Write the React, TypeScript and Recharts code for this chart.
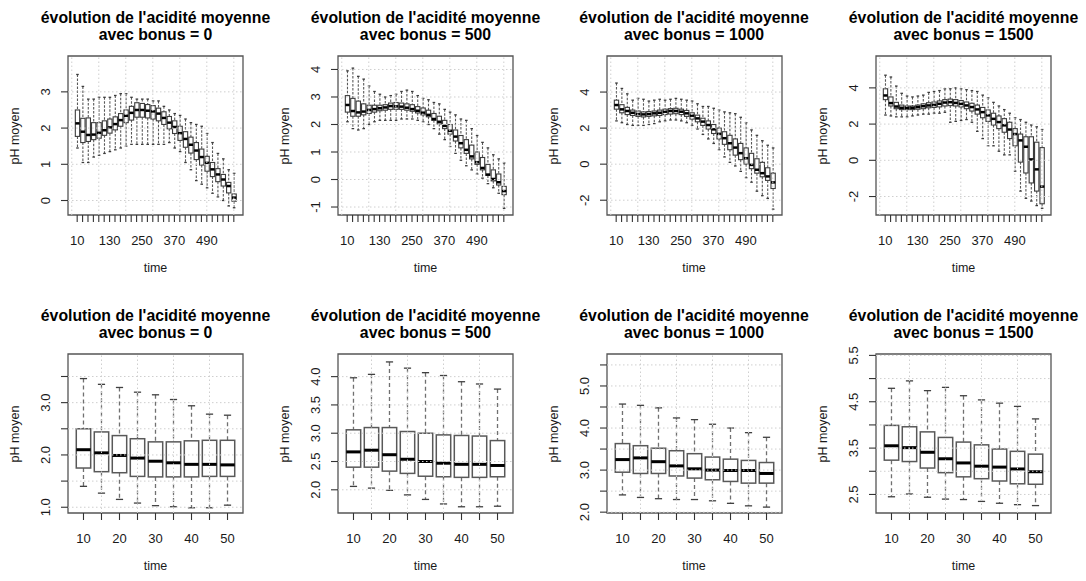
import React from "react";
import { ComposedChart, Bar, XAxis, YAxis, ReferenceLine, ReferenceArea } from "recharts";

// ---------- data ----------
const TIMES_LONG = [10, 30, 50, 70, 90, 110, 130, 150, 170, 190, 210, 230, 250, 270, 290, 310, 330, 350, 370, 390, 410, 430, 450, 470, 490, 510, 530, 550, 570, 590];
const TIMES_SHORT = [10, 15, 20, 25, 30, 35, 40, 45, 50];
const LONG_TICK_LABELS = [10, 130, 250, 370, 490];
const SHORT_TICK_LABELS = [10, 20, 30, 40, 50];
const BONUS = [0, 500, 1000, 1500];

// bonus 0, long run
const b0L_high = [3.48, 3.15, 2.8, 2.8, 2.85, 2.85, 2.85, 2.9, 2.95, 2.95, 2.85, 2.8, 2.8, 2.8, 2.75, 2.75, 2.6, 2.5, 2.4, 2.35, 2.25, 2.15, 2.1, 2.05, 1.85, 1.6, 1.3, 1.15, 0.85, 0.75];
const b0L_q3 = [2.5, 2.27, 2.28, 2.15, 2.15, 2.2, 2.25, 2.31, 2.4, 2.5, 2.6, 2.7, 2.68, 2.65, 2.62, 2.55, 2.45, 2.32, 2.2, 2.05, 1.9, 1.75, 1.6, 1.42, 1.22, 1.05, 0.88, 0.72, 0.5, 0.18];
const b0L_med = [2.13, 1.9, 1.81, 1.82, 1.87, 1.94, 2.02, 2.11, 2.22, 2.34, 2.42, 2.5, 2.5, 2.48, 2.46, 2.4, 2.28, 2.15, 2.03, 1.86, 1.7, 1.54, 1.38, 1.2, 1.04, 0.86, 0.72, 0.58, 0.4, 0.08];
const b0L_q1 = [1.77, 1.6, 1.63, 1.68, 1.72, 1.8, 1.86, 1.95, 2.05, 2.15, 2.22, 2.3, 2.3, 2.28, 2.25, 2.2, 2.1, 1.98, 1.85, 1.66, 1.47, 1.31, 1.13, 0.98, 0.81, 0.66, 0.52, 0.4, 0.21, -0.02];
const b0L_low = [1.45, 1.05, 1.05, 1.2, 1.25, 1.3, 1.35, 1.4, 1.45, 1.5, 1.55, 1.55, 1.55, 1.55, 1.55, 1.55, 1.55, 1.6, 1.45, 1.35, 1.05, 0.85, 0.55, 0.45, 0.35, 0.2, 0.1, 0.0, -0.15, -0.2];

// bonus 500, long run
const b500L_high = [3.95, 4.05, 3.75, 3.65, 3.4, 3.2, 3.1, 3.0, 3.05, 3.1, 3.2, 3.25, 3.2, 3.05, 2.95, 2.9, 2.8, 2.75, 2.55, 2.45, 2.35, 2.2, 2.15, 1.85, 1.6, 1.35, 1.15, 0.9, 0.75, 0.6];
const b500L_q3 = [3.05, 2.95, 2.85, 2.75, 2.7, 2.7, 2.7, 2.72, 2.78, 2.8, 2.78, 2.75, 2.72, 2.65, 2.6, 2.52, 2.4, 2.3, 2.15, 2.0, 1.8, 1.6, 1.45, 1.25, 1.0, 0.8, 0.55, 0.35, 0.2, -0.25];
const b500L_med = [2.71, 2.49, 2.44, 2.47, 2.53, 2.56, 2.59, 2.62, 2.67, 2.66, 2.65, 2.61, 2.56, 2.5, 2.43, 2.35, 2.2, 2.1, 1.95, 1.77, 1.56, 1.32, 1.08, 0.84, 0.63, 0.42, 0.18, 0.02, -0.1, -0.42];
const b500L_q1 = [2.45, 2.3, 2.3, 2.35, 2.4, 2.45, 2.5, 2.52, 2.55, 2.55, 2.55, 2.52, 2.48, 2.42, 2.35, 2.28, 2.15, 2.02, 1.85, 1.65, 1.4, 1.15, 0.95, 0.75, 0.55, 0.35, 0.15, -0.05, -0.2, -0.55];
const b500L_low = [2.1, 1.85, 1.8, 1.85, 2.0, 2.1, 2.15, 2.15, 2.15, 2.15, 2.2, 2.2, 2.2, 2.15, 2.1, 2.0, 1.85, 1.65, 1.45, 1.2, 0.95, 0.7, 0.5, 0.35, 0.2, 0.05, -0.15, -0.3, -0.5, -1.05];

// bonus 1000, long run
const b1000L_high = [4.5, 4.2, 3.9, 3.55, 3.65, 3.6, 3.5, 3.55, 3.6, 3.55, 3.6, 3.65, 3.6, 3.55, 3.5, 3.35, 3.2, 3.2, 3.1, 3.0, 2.9, 2.85, 2.8, 2.6, 2.3, 1.9, 1.6, 1.3, 1.05, 0.9];
const b1000L_q3 = [3.55, 3.3, 3.15, 3.0, 2.95, 2.9, 2.92, 2.95, 3.0, 3.05, 3.08, 3.1, 3.05, 2.98, 2.85, 2.72, 2.55, 2.4, 2.2, 2.0, 1.8, 1.6, 1.4, 1.15, 0.9, 0.6, 0.3, 0.1, -0.2, -0.5];
const b1000L_med = [3.28, 3.04, 2.95, 2.85, 2.78, 2.76, 2.78, 2.82, 2.85, 2.91, 2.95, 2.95, 2.91, 2.82, 2.69, 2.54, 2.36, 2.17, 1.93, 1.68, 1.44, 1.16, 0.92, 0.61, 0.33, -0.04, -0.31, -0.5, -0.68, -1.01];
const b1000L_q1 = [3.05, 2.85, 2.75, 2.7, 2.65, 2.62, 2.65, 2.68, 2.7, 2.75, 2.78, 2.8, 2.75, 2.65, 2.5, 2.35, 2.15, 1.95, 1.7, 1.4, 1.1, 0.8, 0.5, 0.25, 0.0, -0.25, -0.5, -0.7, -0.9, -1.35];
const b1000L_low = [2.4, 2.3, 2.2, 2.15, 2.15, 2.15, 2.2, 2.25, 2.35, 2.4, 2.45, 2.45, 2.4, 2.3, 2.15, 1.95, 1.65, 1.4, 1.15, 0.8, 0.4, 0.1, -0.1, -0.4, -0.75, -1.0, -1.5, -1.75, -1.9, -2.5];

// bonus 1500, long run
const b1500L_high = [4.7, 4.6, 4.1, 3.7, 3.55, 3.5, 3.55, 3.6, 3.75, 3.8, 3.85, 3.95, 3.95, 4.0, 3.95, 3.9, 3.85, 3.8, 3.6, 3.45, 3.2, 3.0, 2.8, 2.6, 2.35, 2.25, 2.1, 1.95, 1.85, 1.7];
const b1500L_q3 = [3.95, 3.5, 3.2, 3.05, 3.0, 3.0, 3.05, 3.12, 3.18, 3.22, 3.28, 3.35, 3.38, 3.35, 3.3, 3.22, 3.15, 3.05, 2.92, 2.78, 2.6, 2.45, 2.3, 2.1, 1.75, 1.45, 1.3, 1.3, 1.0, 0.7];
const b1500L_med = [3.58, 3.16, 2.97, 2.9, 2.9, 2.9, 2.94, 2.99, 3.03, 3.06, 3.12, 3.19, 3.21, 3.17, 3.12, 3.03, 2.94, 2.81, 2.66, 2.48, 2.29, 2.11, 1.93, 1.7, 1.45, 1.1, 0.75, 0.05, -0.5, -1.45];
const b1500L_q1 = [3.35, 3.0, 2.85, 2.8, 2.8, 2.8, 2.82, 2.85, 2.9, 2.92, 2.95, 3.0, 3.02, 3.0, 2.95, 2.85, 2.72, 2.55, 2.35, 2.15, 1.95, 1.75, 1.55, 1.2, 0.8, -0.1, -0.7, -1.25, -1.7, -2.4];
const b1500L_low = [2.5, 2.45, 2.4, 2.4, 2.4, 2.45, 2.5, 2.55, 2.55, 2.6, 2.6, 2.65, 2.1, 2.15, 2.2, 2.25, 2.1, 1.6, 1.2, 0.8, 0.8, 0.5, 0.3, 0.3, -0.6, -1.7, -2.1, -2.25, -2.5, -2.65];

// bonus 0, short run
const b0S_high = [3.46, 3.35, 3.29, 3.2, 3.15, 3.06, 2.94, 2.78, 2.76];
const b0S_q3 = [2.5, 2.44, 2.37, 2.31, 2.25, 2.25, 2.27, 2.28, 2.28];
const b0S_med = [2.1, 2.04, 1.99, 1.94, 1.88, 1.85, 1.82, 1.82, 1.81];
const b0S_q1 = [1.75, 1.68, 1.66, 1.59, 1.58, 1.58, 1.58, 1.59, 1.59];
const b0S_low = [1.4, 1.27, 1.15, 1.08, 1.03, 1.01, 0.99, 0.99, 1.04];

// bonus 500, short run
const b500S_high = [3.98, 4.04, 4.26, 4.15, 4.07, 4.02, 3.91, 3.87, 3.78];
const b500S_q3 = [3.06, 3.1, 3.1, 3.03, 3.0, 2.97, 2.96, 2.95, 2.87];
const b500S_med = [2.67, 2.7, 2.62, 2.54, 2.5, 2.47, 2.45, 2.45, 2.43];
const b500S_q1 = [2.4, 2.4, 2.33, 2.29, 2.24, 2.23, 2.22, 2.22, 2.23];
const b500S_low = [2.06, 2.03, 1.99, 1.91, 1.83, 1.75, 1.7, 1.7, 1.71];

// bonus 1000, short run
const b1000S_high = [4.57, 4.54, 4.48, 4.24, 4.2, 4.09, 4.0, 3.89, 3.78];
const b1000S_q3 = [3.63, 3.58, 3.52, 3.46, 3.39, 3.31, 3.26, 3.23, 3.18];
const b1000S_med = [3.25, 3.29, 3.2, 3.1, 3.03, 3.0, 2.99, 2.99, 2.92];
const b1000S_q1 = [2.95, 2.92, 2.92, 2.86, 2.81, 2.77, 2.73, 2.69, 2.69];
const b1000S_low = [2.41, 2.35, 2.32, 2.3, 2.3, 2.27, 2.21, 2.15, 2.12];

// bonus 1500, short run
const b1500S_high = [4.79, 4.95, 4.74, 4.81, 4.63, 4.54, 4.47, 4.4, 4.13];
const b1500S_q3 = [3.99, 3.96, 3.85, 3.73, 3.63, 3.57, 3.48, 3.43, 3.37];
const b1500S_med = [3.55, 3.51, 3.41, 3.27, 3.18, 3.11, 3.09, 3.05, 2.99];
const b1500S_q1 = [3.24, 3.21, 3.07, 2.97, 2.88, 2.84, 2.79, 2.73, 2.72];
const b1500S_low = [2.45, 2.51, 2.44, 2.4, 2.39, 2.35, 2.31, 2.28, 2.26];

// axis ticks
const Y_TICKS = [
  [0, 1, 2, 3],
  [-1, 0, 1, 2, 3, 4],
  [-2, 0, 2, 4],
  [-2, 0, 2, 4],
  [1.0, 1.5, 2.0, 2.5, 3.0, 3.5],
  [2.0, 2.5, 3.0, 3.5, 4.0],
  [2.0, 2.5, 3.0, 3.5, 4.0, 4.5, 5.0, 5.5],
  [2.5, 3.0, 3.5, 4.0, 4.5, 5.0, 5.5],
];
const Y_LABELS = [
  [0, 1, 2, 3],
  [-1, 0, 1, 2, 3, 4],
  [-2, 0, 2, 4],
  [-2, 0, 2, 4],
  [1.0, 2.0, 3.0],
  [2.0, 2.5, 3.0, 3.5, 4.0],
  [2.0, 3.0, 4.0, 5.0],
  [2.5, 3.5, 4.5, 5.5],
];
const Y_DOMAINS = [
  [-0.4, 3.99],
  [-1.29, 4.49],
  [-2.82, 6.0],
  [-3.02, 5.76],
  [0.89, 3.93],
  [1.59, 4.4],
  [1.98, 5.76],
  [2.1, 5.53],
];

// ---------- layout / style ----------
const FONT = '"Liberation Sans", Arial, Helvetica, sans-serif';
const CELL_W = 271;
const CELL_H = 290;
const PLOT_LEFT = 68;
const PLOT_TOP = 56;
const PLOT_W = 175;
const PLOT_H = 159;
const COL_X = [0, 270, 538.5, 808];
const ROW_Y = [0, 298];
const GRID = "#cfcfcf";

type Spec = {
  times: number[];
  tickLabels: number[];
  low: number[];
  q1: number[];
  med: number[];
  q3: number[];
  high: number[];
  bonus: number;
  yTicks: number[];
  yLabels: number[];
  yDomain: number[];
  decimals: number;
  gridX: number[];
};

const BoxShape = (props: any) => {
  const { x, y, width, height, payload, boxW, medW } = props;
  if (!payload) return null;
  const cx = x + width / 2;
  const top = Math.min(y, y + height);
  const bot = Math.max(y, y + height);
  const hi = payload.high;
  const lo = payload.low;
  const py = (v: number) => (hi === lo ? top : top + ((hi - v) / (hi - lo)) * (bot - top));
  const small = boxW < 8;
  const sw = small ? boxW * 0.6 : boxW / 2;
  const dash = small ? "2.5 1.5" : "4 3";
  const bsw = small ? 1.1 : 1.5;
  const boxStroke = small ? "#3c3c3c" : "#595959";
  const whisk = small ? "#5a5a5a" : "#707070";
  const staple = small ? "#3c3c3c" : "#404040";
  return (
    <g>
      <line x1={cx} x2={cx} y1={py(hi)} y2={py(payload.q3)} stroke={whisk} strokeDasharray={dash} strokeWidth={small ? 1.1 : 1.3} />
      <line x1={cx} x2={cx} y1={py(payload.q1)} y2={py(lo)} stroke={whisk} strokeDasharray={dash} strokeWidth={small ? 1.1 : 1.3} />
      <line x1={cx - sw / 2} x2={cx + sw / 2} y1={py(hi)} y2={py(hi)} stroke={staple} strokeWidth={1.3} />
      <line x1={cx - sw / 2} x2={cx + sw / 2} y1={py(lo)} y2={py(lo)} stroke={staple} strokeWidth={1.3} />
      <rect x={cx - boxW / 2} y={py(payload.q3)} width={boxW} height={Math.max(0.5, py(payload.q1) - py(payload.q3))} fill="#ffffff" stroke={boxStroke} strokeWidth={bsw} />
      <line x1={cx - boxW / 2} x2={cx + boxW / 2} y1={py(payload.med)} y2={py(payload.med)} stroke="#000" strokeWidth={medW} />
    </g>
  );
};

function Panel({ spec, col, row }: { spec: Spec; col: number; row: number }) {
  const n = spec.times.length;
  const rows = spec.times.map((t, i) => ({
    pos: i + 1,
    time: t,
    low: spec.low[i],
    q1: spec.q1[i],
    med: spec.med[i],
    q3: spec.q3[i],
    high: spec.high[i],
  }));
  const ext = 0.04 * n;
  const xDomain = [0.5 - ext, n + 0.5 + ext];
  const unitPx = PLOT_W / (n * 1.08);
  const boxW = unitPx * 0.8;
  const medW = n > 12 ? 2.5 : 3;
  const cx = PLOT_LEFT + PLOT_W / 2;
  const cy = PLOT_TOP + PLOT_H / 2;

  const YTick = (p: any) => {
    const v = p.payload.value;
    if (!spec.yLabels.some((l) => Math.abs(l - v) < 1e-9)) return null;
    const tx = p.x - 10.5;
    return (
      <text x={tx} y={p.y} transform={`rotate(-90, ${tx}, ${p.y})`} textAnchor="middle" fontSize={13} fontFamily={FONT} fill="#1a1a1a">
        {v.toFixed(spec.decimals)}
      </text>
    );
  };
  const XTick = (p: any) => {
    const r = rows[Math.round(p.payload.value) - 1];
    if (!r || !spec.tickLabels.includes(r.time)) return null;
    return (
      <text x={p.x} y={p.y + 22.5} textAnchor="middle" fontSize={13} fontFamily={FONT} fill="#1a1a1a">
        {r.time}
      </text>
    );
  };

  return (
    <div style={{ position: "absolute", left: COL_X[col], top: ROW_Y[row], width: CELL_W, height: CELL_H }}>
      <ComposedChart
        width={CELL_W}
        height={CELL_H}
        data={rows}
        margin={{ top: PLOT_TOP, right: CELL_W - PLOT_LEFT - PLOT_W, bottom: 0, left: 0 }}
      >
        <XAxis
          type="number"
          dataKey="pos"
          domain={xDomain}
          allowDataOverflow
          ticks={rows.map((r) => r.pos)}
          interval={0}
          height={CELL_H - PLOT_TOP - PLOT_H}
          tickSize={7}
          tickMargin={0}
          axisLine={false}
          tickLine={{ stroke: "#333", strokeWidth: 1.1 }}
          tick={XTick}
        />
        <YAxis
          type="number"
          domain={spec.yDomain}
          allowDataOverflow
          ticks={spec.yTicks}
          interval={0}
          width={PLOT_LEFT}
          tickSize={7}
          tickMargin={0}
          axisLine={false}
          tickLine={{ stroke: "#333", strokeWidth: 1.1 }}
          tick={YTick}
        />
        {spec.yTicks.map((v) => (
          <ReferenceLine key={"gy" + v} y={v} stroke={GRID} strokeDasharray="1.5 2.5" strokeWidth={1} />
        ))}
        {spec.gridX.map((v) => (
          <ReferenceLine key={"gx" + v} x={v} stroke={GRID} strokeDasharray="1.5 2.5" strokeWidth={1} />
        ))}
        <Bar
          dataKey={(d: any) => [d.low, d.high]}
          isAnimationActive={false}
          barSize={Math.max(1, Math.round(boxW))}
          shape={(p: any) => <BoxShape {...p} boxW={boxW} medW={medW} />}
        />
        <ReferenceArea
          x1={xDomain[0]}
          x2={xDomain[1]}
          y1={spec.yDomain[0]}
          y2={spec.yDomain[1]}
          fill="none"
          fillOpacity={0}
          stroke="#555"
          strokeWidth={1.3}
          ifOverflow="visible"
        />
      </ComposedChart>
      <div
        style={{
          position: "absolute",
          left: cx - 150,
          top: 9,
          width: 300,
          textAlign: "center",
          fontFamily: FONT,
          fontWeight: "bold",
          fontSize: 15.8,
          lineHeight: "17px",
          color: "#000",
          whiteSpace: "nowrap",
        }}
      >
        <div>évolution de l'acidité moyenne</div>
        <div>avec bonus = {spec.bonus}</div>
      </div>
      <div
        style={{
          position: "absolute",
          left: cx - 50,
          top: 259,
          width: 100,
          textAlign: "center",
          fontFamily: FONT,
          fontSize: 12.5,
          lineHeight: "18px",
          color: "#1a1a1a",
        }}
      >
        time
      </div>
      <div
        style={{
          position: "absolute",
          left: 15 - 50,
          top: cy - 9,
          width: 100,
          height: 18,
          textAlign: "center",
          fontFamily: FONT,
          fontSize: 12.5,
          lineHeight: "18px",
          color: "#1a1a1a",
          transform: "rotate(-90deg)",
        }}
      >
        pH moyen
      </div>
    </div>
  );
}

function buildSpecs(): Spec[] {
  const longGrid = [0, 5, 10, 15, 20, 25, 30];
  const shortGrid = [2, 4, 6, 8];
  const longSets = [
    [b0L_low, b0L_q1, b0L_med, b0L_q3, b0L_high],
    [b500L_low, b500L_q1, b500L_med, b500L_q3, b500L_high],
    [b1000L_low, b1000L_q1, b1000L_med, b1000L_q3, b1000L_high],
    [b1500L_low, b1500L_q1, b1500L_med, b1500L_q3, b1500L_high],
  ];
  const shortSets = [
    [b0S_low, b0S_q1, b0S_med, b0S_q3, b0S_high],
    [b500S_low, b500S_q1, b500S_med, b500S_q3, b500S_high],
    [b1000S_low, b1000S_q1, b1000S_med, b1000S_q3, b1000S_high],
    [b1500S_low, b1500S_q1, b1500S_med, b1500S_q3, b1500S_high],
  ];
  const specs: Spec[] = [];
  longSets.forEach((s, i) =>
    specs.push({
      times: TIMES_LONG,
      tickLabels: LONG_TICK_LABELS,
      low: s[0], q1: s[1], med: s[2], q3: s[3], high: s[4],
      bonus: BONUS[i],
      yTicks: Y_TICKS[i],
      yLabels: Y_LABELS[i],
      yDomain: Y_DOMAINS[i],
      decimals: 0,
      gridX: longGrid,
    })
  );
  shortSets.forEach((s, i) =>
    specs.push({
      times: TIMES_SHORT,
      tickLabels: SHORT_TICK_LABELS,
      low: s[0], q1: s[1], med: s[2], q3: s[3], high: s[4],
      bonus: BONUS[i],
      yTicks: Y_TICKS[4 + i],
      yLabels: Y_LABELS[4 + i],
      yDomain: Y_DOMAINS[4 + i],
      decimals: 1,
      gridX: shortGrid,
    })
  );
  return specs;
}

export default function App() {
  const specs = buildSpecs();
  return (
    <div style={{ position: "absolute", left: 0, top: 0, width: 1086, height: 581, background: "#fff", overflow: "hidden" }}>
      {specs.map((s, i) => (
        <Panel key={i} spec={s} col={i % 4} row={Math.floor(i / 4)} />
      ))}
    </div>
  );
}
